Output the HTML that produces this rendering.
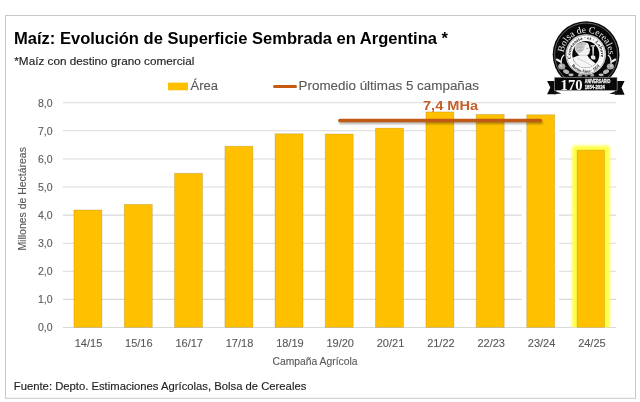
<!DOCTYPE html>
<html><head><meta charset="utf-8">
<style>
html,body{margin:0;padding:0;background:#fff;width:640px;height:402px;overflow:hidden}
svg{display:block;will-change:transform}
text{font-family:"Liberation Sans",sans-serif}
</style></head>
<body>
<svg width="640" height="402" viewBox="0 0 640 402">
<defs>
<filter id="shd" filterUnits="userSpaceOnUse" x="320" y="110" width="240" height="25"><feGaussianBlur stdDeviation="0.9"/></filter>
<filter id="glow" x="-50%" y="-50%" width="200%" height="200%">
<feGaussianBlur stdDeviation="1.7"/>
</filter>
</defs>
<rect x="0" y="0" width="640" height="402" fill="#fff"/>
<rect id="frame" x="5.5" y="15.5" width="630" height="382.8" fill="none" stroke="#c8c8c8" stroke-width="1"/>

<!-- title -->
<text id="title" x="14" y="43.75" font-size="16.8" font-weight="bold" fill="#000" textLength="434" lengthAdjust="spacingAndGlyphs">Maíz: Evolución de Superficie Sembrada en Argentina *</text>
<text id="sub" x="14.3" y="65.4" font-size="10.9" fill="#1f1f1f" textLength="180" lengthAdjust="spacingAndGlyphs" stroke="#1f1f1f" stroke-width="0.15">*Maíz con destino grano comercial</text>

<!-- legend -->
<rect x="168" y="82.6" width="20" height="7.7" fill="#FFC000"/>
<text id="leg1" x="190.5" y="90.3" font-size="12.5" fill="#595959" textLength="27.5" lengthAdjust="spacingAndGlyphs" stroke="#595959" stroke-width="0.12">Área</text>
<line x1="274.5" y1="86.5" x2="295.5" y2="86.5" stroke="#C55A11" stroke-width="3" stroke-linecap="round"/>
<text id="leg2" x="298.5" y="90.2" font-size="12.5" fill="#595959" textLength="180.5" lengthAdjust="spacingAndGlyphs" stroke="#595959" stroke-width="0.12">Promedio últimas 5 campañas</text>

<!-- gridlines -->
<g stroke="#d9d9d9" stroke-width="1.05">
<line x1="63" y1="102.75" x2="616" y2="102.75"/>
<line x1="63" y1="130.84" x2="616" y2="130.84"/>
<line x1="63" y1="158.93" x2="616" y2="158.93"/>
<line x1="63" y1="187.01" x2="616" y2="187.01"/>
<line x1="63" y1="215.10" x2="616" y2="215.10"/>
<line x1="63" y1="243.19" x2="616" y2="243.19"/>
<line x1="63" y1="271.27" x2="616" y2="271.27"/>
<line x1="63" y1="299.36" x2="616" y2="299.36"/>
<line x1="63" y1="327.45" x2="616" y2="327.45"/>
</g>

<!-- y labels -->
<g font-size="10.5" fill="#595959" text-anchor="end" stroke="#595959" stroke-width="0.12">
<text x="52.6" y="106.5">8,0</text>
<text x="52.6" y="134.6">7,0</text>
<text x="52.6" y="162.6">6,0</text>
<text x="52.6" y="190.7">5,0</text>
<text x="52.6" y="218.8">4,0</text>
<text x="52.6" y="246.9">3,0</text>
<text x="52.6" y="275.0">2,0</text>
<text x="52.6" y="303.0">1,0</text>
<text x="52.6" y="331.1">0,0</text>
</g>

<!-- glow for last bar -->
<clipPath id="glowclip"><rect x="540" y="100" width="100" height="227.3"/></clipPath>
<g clip-path="url(#glowclip)">
<rect x="572.2" y="145.8" width="37.6" height="200" rx="2.5" fill="#FFFF40" filter="url(#glow)"/>
</g>
<rect x="521.6" y="109.5" width="37.4" height="217.3" fill="#fff"/>
<!-- bars -->
<g fill="#FFC000" stroke="rgba(140,110,40,0.3)" stroke-width="0.8">
<rect x="73.90" y="210.0" width="28.00" height="117.3"/>
<rect x="124.30" y="204.4" width="28.00" height="122.9"/>
<rect x="174.50" y="173.3" width="28.00" height="154.0"/>
<rect x="224.90" y="146.25" width="28.00" height="181.05"/>
<rect x="275.00" y="133.75" width="28.00" height="193.55"/>
<rect x="325.20" y="134.0" width="28.00" height="193.3"/>
<rect x="375.50" y="128.1" width="28.00" height="199.2"/>
<rect x="425.90" y="111.9" width="28.00" height="215.4"/>
<rect x="476.20" y="114.4" width="28.00" height="212.9"/>
<rect x="526.70" y="114.75" width="28.00" height="212.55"/>
<rect x="577.10" y="150.2" width="27.40" height="177.1"/>
</g>

<!-- avg line -->
<line x1="340.5" y1="122.6" x2="541.5" y2="122.6" stroke="rgba(0,0,0,0.32)" stroke-width="3" stroke-linecap="round" filter="url(#shd)"/>
<line x1="339.8" y1="120.5" x2="540.5" y2="120.5" stroke="#BF5A16" stroke-width="3.4" stroke-linecap="round"/>
<text id="lbl" x="423" y="110.25" font-size="13.5" font-weight="bold" fill="#C2602A" textLength="55" lengthAdjust="spacingAndGlyphs" >7,4 MHa</text>

<!-- x labels -->
<g font-size="11" fill="#595959" text-anchor="middle" stroke="#595959" stroke-width="0.12">
<text x="88.5" y="346.5">14/15</text>
<text x="138.8" y="346.5">15/16</text>
<text x="189.2" y="346.5">16/17</text>
<text x="239.5" y="346.5">17/18</text>
<text x="289.9" y="346.5">18/19</text>
<text x="340.2" y="346.5">19/20</text>
<text x="390.5" y="346.5">20/21</text>
<text x="440.9" y="346.5">21/22</text>
<text x="491.2" y="346.5">22/23</text>
<text x="541.6" y="346.5">23/24</text>
<text x="591.9" y="346.5">24/25</text>
</g>
<text id="xt" x="272.5" y="365.3" font-size="10.5" fill="#595959" textLength="85" lengthAdjust="spacingAndGlyphs" stroke="#595959" stroke-width="0.12">Campaña Agrícola</text>
<text id="yt" transform="translate(26,250.6) rotate(-90)" x="0" y="0" font-size="10.5" fill="#595959" textLength="103.5" lengthAdjust="spacingAndGlyphs" stroke="#595959" stroke-width="0.12">Millones de Hectáreas</text>

<!-- footer -->
<text id="foot" x="13.8" y="389.8" font-size="11.2" fill="#1f1f1f" textLength="292.5" lengthAdjust="spacingAndGlyphs" stroke="#1f1f1f" stroke-width="0.15">Fuente: Depto. Estimaciones Agrícolas, Bolsa de Cereales</text>

<!-- logo -->
<g id="logo">
<defs>
<path id="arcTop" d="M 563.67 52.55 A 22.6 22.6 0 0 1 608.64 53.72"/>
<path id="arcIn" d="M 571.19 58.69 A 15.2 15.2 0 1 1 600.41 58.69"/>
<path id="arcInB" d="M 571.46 65.71 A 18.2 18.2 0 0 0 600.14 65.71"/>
<clipPath id="disc"><circle cx="585.8" cy="54.5" r="13.3"/></clipPath>
</defs>
<circle cx="586.1" cy="54.6" r="33.4" fill="#080808"/>
<circle cx="586.1" cy="54.6" r="31.5" fill="none" stroke="#9a9a9a" stroke-width="0.6"/>
<text style="font-family:'Liberation Serif',serif" font-size="9.4" fill="#f0f0f0"><textPath href="#arcTop" textLength="67" lengthAdjust="spacingAndGlyphs">Bolsa de Cereales</textPath></text>
<circle cx="585.8" cy="54.5" r="20.2" fill="#fafafa"/>
<circle cx="585.8" cy="54.5" r="19.3" fill="none" stroke="#444" stroke-width="0.4"/>
<text style="font-family:'Liberation Serif',serif" font-size="4.4" font-weight="bold" fill="#111"><textPath href="#arcIn" textLength="54" lengthAdjust="spacingAndGlyphs">Constantia · et · Labore</textPath></text>
<text style="font-family:'Liberation Serif',serif" font-size="4.4" font-weight="bold" fill="#111"><textPath href="#arcInB" textLength="32" lengthAdjust="spacingAndGlyphs">Buenos Aires · 1854</textPath></text>
<circle cx="585.8" cy="54.5" r="13.5" fill="#060606"/>
<g clip-path="url(#disc)">
<path d="M 571 58.6 C 574 57 577 55.8 579.6 55.2 L 587.2 55.2 C 588 56.5 588.8 57.6 589.5 58.4 C 591.5 60.2 593.5 61.8 595 62.9 C 596.5 63.9 598 64.8 600 65.5 L 600 72 L 571 72 Z" fill="#f6f6f6"/>
<path d="M 574.7 47.6 C 575.2 44.5 578 42.4 581.4 42.2 C 584 42 586.2 42.3 587.4 43 C 588.6 43.8 589 45 589.1 46 C 589.3 47.2 589.6 48.6 590.4 50.1 L 589.6 50.9 C 589.9 51.5 589.8 52 589.4 52.4 C 589.6 53 589.4 53.7 588.9 54 C 588.2 54.6 587.6 55 587 55.4 L 580 55.6 C 578.8 55 577.6 54 577 53 C 575.6 51.5 574.6 49.6 574.7 47.6 Z" fill="#f2f2f2"/>
<path d="M 575.2 47.5 C 575.5 44.8 578 42.8 581.4 42.6 C 584 42.5 586 43 587 44 C 585 45 584 47 584.2 49.5 C 583 51 581 52.5 578.5 53.5 C 576.5 52 575.2 50 575.2 47.5 Z" fill="#c8c8c8"/>
<path d="M 576 45.5 C 577.5 44 580 43.4 582.5 43.8 M 576.2 48.4 C 578 47 580.5 46.6 583 47.2 M 577.5 51 C 579 50 581 50 582.5 50.6" stroke="#888" stroke-width="0.5" fill="none"/>
<path d="M 586.5 48.2 L 588.2 48.6" stroke="#444" stroke-width="0.5"/>
<path d="M 577 58.2 C 581 60 587 62.5 592.5 66.5" stroke="#a0a0a0" stroke-width="0.45" fill="none"/>
<path d="M 590.6 45.2 L 595.2 45.2 L 595 46.4 L 590.8 46.4 Z" fill="#f2f2f2"/>
<path d="M 592.2 46.4 L 594 46.4 L 593.7 56 L 592.6 56 Z" fill="#e6e6e6"/>
<path d="M 590.8 56 C 592.2 55.4 594.3 55.4 595.2 56.2 L 595.5 59.2 C 593.8 59.8 592 59.4 591.2 58.4 Z" fill="#ececec"/>
</g>
<!-- laurel -->
<g>
<ellipse cx="558.6" cy="60.6" rx="3.2" ry="1.15" transform="rotate(32 558.6 60.6)" fill="#eeeeee"/>
<path d="M 561.2 63.5 C 561.0 60 561.5 57 563.8 55.3" stroke="#eeeeee" stroke-width="1.3" fill="none" stroke-linecap="round"/>
<ellipse cx="561.8" cy="66.6" rx="3.6" ry="3" fill="#a8a8a8"/>
<ellipse cx="560.8" cy="65.8" rx="1.6" ry="1.2" fill="#c8c8c8"/>
<ellipse cx="566.2" cy="71.6" rx="3.2" ry="2.1" transform="rotate(25 566.2 71.6)" fill="#b8b8b8"/>
<ellipse cx="571.0" cy="74.8" rx="2.6" ry="1.4" fill="#c0c0c0"/>
<ellipse cx="613.6" cy="60.6" rx="3.2" ry="1.15" transform="rotate(-32 613.6 60.6)" fill="#eeeeee"/>
<path d="M 611.0 63.5 C 611.2 60 610.7 57 608.4 55.3" stroke="#eeeeee" stroke-width="1.3" fill="none" stroke-linecap="round"/>
<ellipse cx="610.4" cy="66.6" rx="3.6" ry="3" fill="#a8a8a8"/>
<ellipse cx="611.4" cy="65.8" rx="1.6" ry="1.2" fill="#c8c8c8"/>
<ellipse cx="606.0" cy="71.6" rx="3.2" ry="2.1" transform="rotate(-25 606.0 71.6)" fill="#b8b8b8"/>
<ellipse cx="601.2" cy="74.8" rx="2.6" ry="1.4" fill="#c0c0c0"/>
<ellipse cx="580" cy="75.3" rx="2.2" ry="1.3" fill="#a8a8a8"/>
<ellipse cx="592.2" cy="75.3" rx="2.2" ry="1.3" fill="#a8a8a8"/>
<ellipse cx="586.1" cy="75.6" rx="1.4" ry="1.1" fill="#888"/>
</g>
<!-- banner -->
<path d="M 547.1 81 L 556 81 L 556 94.2 L 547.1 94.2 L 550.3 87.6 Z" fill="#0a0a0a"/>
<path d="M 554.3 90.7 L 561.5 93.6 L 554.3 94.2 Z" fill="#1a1a1a"/>
<path d="M 624.6 80.9 L 615 80.9 L 615 94.7 L 624.6 94.7 L 621.5 87.6 Z" fill="#0a0a0a"/>
<path d="M 617 90.4 L 609.4 93.8 L 617 94.5 Z" fill="#1a1a1a"/>
<rect x="554.3" y="77.2" width="62.8" height="13.4" fill="#080808" stroke="#d8d8d8" stroke-width="0.5"/>
<text x="560.6" y="89.6" style="font-family:'Liberation Serif',serif" font-size="15.4" font-weight="bold" fill="#fafafa" textLength="22" lengthAdjust="spacingAndGlyphs">170</text>
<text x="584.8" y="83.4"  font-weight="bold" font-size="5.2" fill="#f2f2f2" stroke="#f2f2f2" stroke-width="0.3" textLength="25.6" lengthAdjust="spacingAndGlyphs">ANIVERSARIO</text>
<text x="584.8" y="88.9"  font-weight="bold" font-size="5.4" fill="#f2f2f2" stroke="#f2f2f2" stroke-width="0.3" textLength="20" lengthAdjust="spacingAndGlyphs">1854-2024</text>
</g>
</svg>
</body></html>
